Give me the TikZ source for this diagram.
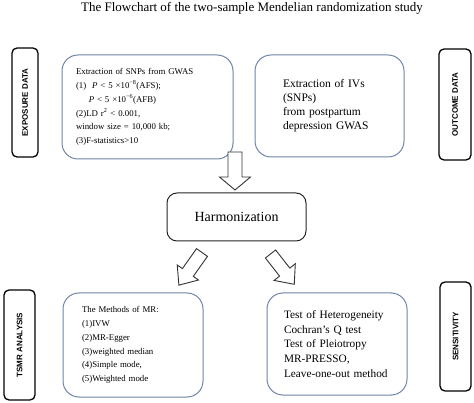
\documentclass[tikz,border=0pt]{standalone}
\usepackage{fontspec}
\setmainfont{Liberation Serif}
\newfontfamily\labfont{Liberation Sans}
\definecolor{boxblue}{HTML}{6F84A8}
\definecolor{arrowgray}{HTML}{333333}
\begin{document}
\begin{tikzpicture}[x=1pt,y=-1pt,
  bluebox/.style={draw=boxblue, line width=1pt, rounded corners=16pt, align=left, inner ysep=0pt},
  sidebox/.style={draw=black, line width=1.3pt, rounded corners=5pt, inner sep=0pt, rotate=90,
    font=\labfont\bfseries\fontsize{8}{9}\selectfont},
  blockarrow/.style={draw=arrowgray, line width=0.9pt, fill=white, line join=miter},
  smalltext/.style={font=\fontsize{8.8}{13.8}\selectfont},
  bigtext/.style={font=\fontsize{11.5}{14}\selectfont}]
\useasboundingbox (0,0) rectangle (474,403);

% title
\node (title) at (252,8) {\fontsize{13}{15}\selectfont The Flowchart of the two-sample Mendelian randomization study};

% side labels
\node[sidebox, minimum width=109pt, minimum height=26pt] (expo) at (25,102.5) {EXPOSURE DATA};
\node[sidebox, minimum width=111pt, minimum height=32pt] (outc) at (455,104.5) {OUTCOME DATA};
\node[sidebox, minimum width=110pt, minimum height=31pt] (tsmr) at (19.5,345) {TSMR ANALYSIS};
\node[sidebox, minimum width=109pt, minimum height=31pt] (sens) at (455.5,336.5) {SENSITIVITY};

% main boxes
\node[bluebox, smalltext, minimum width=171pt, minimum height=104pt, text width=143pt, inner xsep=14pt]
  (snps) at (147.5,107) {Extraction of SNPs from GWAS\\
  (1)\ \ \textit{P} < 5 ×10\textsuperscript{−8}(AFS);\\
  \hspace*{1.45em}\textit{P} < 5 ×10\textsuperscript{−6}(AFB)\\
  (2)LD r\textsuperscript{2} < 0.001,\\
  window size = 10,000 kb;\\
  (3)F-statistics>10};

\node[bluebox, bigtext, minimum width=149pt, minimum height=102pt, text width=93pt, inner xsep=28pt]
  (ivs) at (329.5,106) {Extraction of IVs\\(SNPs)\\from postpartum\\depression GWAS};

\node[draw=black!85, line width=1pt, rounded corners=10pt, minimum width=139pt, minimum height=48pt,
  font=\fontsize{14}{16}\selectfont] (harm) at (236.5,217) {Harmonization};

\node[bluebox, smalltext, minimum width=140pt, minimum height=104pt, text width=102pt, inner xsep=19pt]
  (mr) at (133,345) {The Methods of MR:\\(1)IVW\\(2)MR-Egger\\(3)weighted median\\(4)Simple mode,\\(5)Weighted mode};

\node[bluebox, font=\fontsize{11.3}{14.6}\selectfont, minimum width=140pt, minimum height=102pt, text width=106pt, inner xsep=17pt]
  (sensbox) at (337,344) {Test of Heterogeneity\\Cochran’s Q test\\Test of Pleiotropy\\MR-PRESSO,\\Leave-one-out method};

% block arrows
\begin{scope}[shift={(235,152)}, rotate=-90]
  \draw[blockarrow] (0,-7) -- (25,-7) -- (25,-15.5) -- (38,0) -- (25,15.5) -- (25,7) -- (0,7) -- cycle;
\end{scope}
\begin{scope}[shift={(202,252.5)}, rotate=234.7]
  \draw[blockarrow] (0,-6.7) -- (24.5,-6.7) -- (24.5,-13) -- (40,0) -- (24.5,13) -- (24.5,6.7) -- (0,6.7) -- cycle;
\end{scope}
\begin{scope}[shift={(270.5,254)}, rotate=-51.9]
  \draw[blockarrow] (0,-6.5) -- (23,-6.5) -- (23,-13.5) -- (38.5,0) -- (23,13.5) -- (23,6.5) -- (0,6.5) -- cycle;
\end{scope}
\end{tikzpicture}
\end{document}
